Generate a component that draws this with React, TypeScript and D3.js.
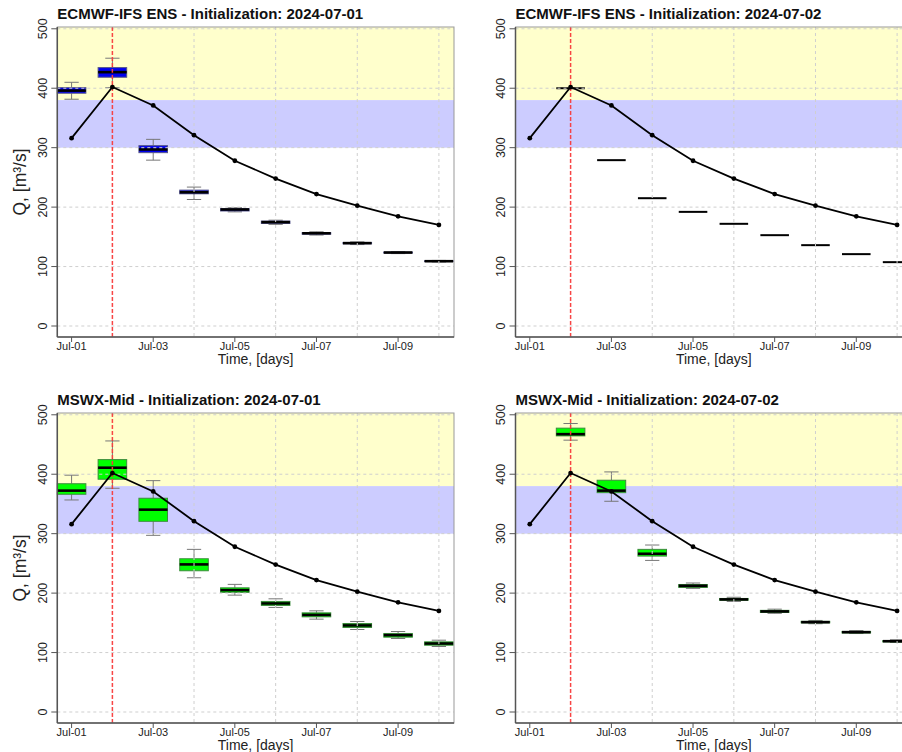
import * as d3 from "d3";

const W = 902, H = 752;
const PW = 396.7, PH = 310;

const DAYS = [1, 2, 3, 4, 5, 6, 7, 8, 9, 10];
const TICK_DAYS = [1, 3, 5, 7, 9];
const TICK_LABELS = ["Jul-01", "Jul-03", "Jul-05", "Jul-07", "Jul-09"];
const GRID_DAYS = [2, 4, 6, 8, 10];
const Y_TICKS = [0, 100, 200, 300, 400, 500];
const INIT_DAY = 2;
const OBS = [316, 402, 371, 321, 278, 248, 222, 202.5, 184.5, 170];

// [lower whisker, q1, median, q3, upper whisker], null where no forecast
type Box = number[] | null;
const ECMWF_0701: Box[] = [
  [381.5, 391.6, 396, 401, 410],
  [401, 418.5, 427, 434.7, 450.5],
  [279, 291.6, 297, 303.4, 314],
  [212.8, 222.4, 225, 228.6, 233.7],
  [192, 193.5, 196, 197.5, 199],
  [171, 172.5, 174.7, 176.5, 178],
  [153, 154.5, 156, 157, 158.5],
  [137, 138.3, 139.4, 140.5, 141.5],
  [121.8, 122.8, 123.6, 124.3, 125.2],
  [107.8, 108.5, 109, 109.6, 110.3],
];
const ECMWF_0702_VALUES = [null, 400, 279, 215, 192, 171.9, 152.8, 136, 120.9, 107.4];
const MSWX_0701: Box[] = [
  [356.7, 366.3, 372.4, 384, 398.4],
  [376.4, 391.6, 411, 424.6, 456],
  [297.2, 320.8, 340.4, 359.6, 389.2],
  [225.8, 237.6, 248.3, 257.8, 273.6],
  [196.6, 201.2, 205, 208.9, 214.7],
  [175.9, 179.3, 182.6, 186, 190.4],
  [156.2, 160.1, 163.4, 166.8, 170.2],
  [138.8, 142.2, 145.6, 148.9, 152.3],
  [123.7, 125.9, 129.2, 132.1, 135.4],
  [110.2, 112.4, 115.2, 118, 120.8],
];
const MSWX_0702: Box[] = [
  null,
  [457.3, 464.5, 467.4, 477.5, 485.3],
  [354.5, 369, 372.4, 389.9, 403.9],
  [255, 262.3, 266.2, 273.6, 280.9],
  [208, 209.5, 212.3, 214.5, 217],
  [186, 188, 189.4, 191, 193],
  [166, 167.5, 169.2, 171, 173],
  [148.5, 150, 151.1, 152.5, 154],
  [132, 133, 134.3, 135.5, 137],
  [117, 118, 119.1, 120, 121.5],
];

const FONT = "'Liberation Sans', Arial, sans-serif";

interface PanelProps {
  x0: number;
  y0: number;
  title: string;
  boxes: Box[];
  fill: string;
  edge: string;
  yLabel: boolean;
}

function Panel({ x0, y0, title, boxes, fill, edge, yLabel }: PanelProps) {
  const x = d3.scaleLinear().domain([0.65, 10.37]).range([0, PW]);
  const y = d3.scaleLinear().domain([-18.5, 503]).range([PH, 0]);
  const bw = x(1.7) - x(1); // box width (0.7 day)
  const line = d3.line<number>().x((_, i) => x(DAYS[i])).y((d) => y(d));

  return (
    <g transform={`translate(${x0},${y0})`}>
      {/* threshold bands */}
      <rect x={0} y={0} width={PW} height={y(380)} fill="#ffffcc" />
      <rect x={0} y={y(380)} width={PW} height={y(300) - y(380)} fill="#ccccff" />

      {/* boxplots */}
      {boxes.map((b, i) => {
        if (!b) return null;
        const cx = x(DAYS[i]);
        const [lo, q1, med, q3, hi] = b;
        const flat = q3 - q1 < 0.01;
        return (
          <g key={i}>
            {!flat && (
              <>
                <line x1={cx} x2={cx} y1={y(hi)} y2={y(q3)} stroke="#777" strokeWidth={1} />
                <line x1={cx} x2={cx} y1={y(q1)} y2={y(lo)} stroke="#777" strokeWidth={1} />
                <line x1={cx - bw / 4} x2={cx + bw / 4} y1={y(hi)} y2={y(hi)} stroke="#777" strokeWidth={1} />
                <line x1={cx - bw / 4} x2={cx + bw / 4} y1={y(lo)} y2={y(lo)} stroke="#777" strokeWidth={1} />
                <rect x={cx - bw / 2} y={y(q3)} width={bw} height={y(q1) - y(q3)} fill={fill} stroke={edge} strokeWidth={1} />
              </>
            )}
            <line x1={cx - bw / 2} x2={cx + bw / 2} y1={y(med)} y2={y(med)} stroke="#000" strokeWidth={flat ? 2 : 2.6} />
          </g>
        );
      })}

      {/* grid */}
      {Y_TICKS.map((t) => (
        <line key={"h" + t} x1={0} x2={PW} y1={y(t)} y2={y(t)} stroke="#cfcfcf" strokeWidth={1} strokeDasharray="3,3" />
      ))}
      {GRID_DAYS.map((d) => (
        <line key={"v" + d} x1={x(d)} x2={x(d)} y1={0} y2={PH} stroke="#cfcfcf" strokeWidth={1} strokeDasharray="3,3" />
      ))}

      {/* initialization date */}
      <line x1={x(INIT_DAY)} x2={x(INIT_DAY)} y1={0} y2={PH} stroke="#ff2020" strokeOpacity={0.8} strokeWidth={1.5} strokeDasharray="4,2" />

      {/* observed */}
      <path d={line(OBS) || ""} fill="none" stroke="#000" strokeWidth={1.8} />
      {OBS.map((v, i) => (
        <circle key={i} cx={x(DAYS[i])} cy={y(v)} r={2.4} fill="#000" />
      ))}

      {/* frame and axes */}
      <rect x={0} y={0} width={PW} height={PH} fill="none" stroke="#999" strokeWidth={1} />
      <line x1={0} x2={0} y1={0} y2={PH} stroke="#555" strokeWidth={1.5} />
      <line x1={0} x2={PW} y1={PH} y2={PH} stroke="#555" strokeWidth={1.5} />
      {Y_TICKS.map((t) => (
        <g key={"yt" + t}>
          <line x1={-6} x2={0} y1={y(t)} y2={y(t)} stroke="#555" strokeWidth={1} />
          <text
            transform={`translate(${-14.6},${y(t)}) rotate(-90)`}
            textAnchor="middle"
            dominantBaseline="central"
            fontSize={12.5}
            fill="#222"
          >
            {t}
          </text>
        </g>
      ))}
      {TICK_DAYS.map((d, i) => (
        <g key={"xt" + d}>
          <line x1={x(d)} x2={x(d)} y1={PH} y2={PH + 5} stroke="#555" strokeWidth={1} />
          <text x={x(d)} y={PH + 12.5} textAnchor="middle" fontSize={11} fill="#222">
            {TICK_LABELS[i]}
          </text>
        </g>
      ))}
      <text x={PW / 2} y={PH + 27} textAnchor="middle" fontSize={14} fill="#222">
        Time, [days]
      </text>
      {yLabel && (
        <text transform={`translate(${-31},${PH / 2}) rotate(-90)`} textAnchor="middle" fontSize={17.5} fill="#222">
          Q, [m³/s]
        </text>
      )}
      <text x={0} y={-8.5} fontSize={15} fontWeight="bold" fill="#111">
        {title}
      </text>
    </g>
  );
}

export default function App() {
  const flat0702: Box[] = ECMWF_0702_VALUES.map((v) => (v == null ? null : [v, v, v, v, v]));
  return (
    <svg
      width={W}
      height={H}
      style={{ position: "absolute", left: 0, top: 0, background: "#fff", fontFamily: FONT }}
    >
      <Panel x0={57.3} y0={27} title="ECMWF-IFS ENS - Initialization: 2024-07-01" boxes={ECMWF_0701} fill="#0000ee" edge="#55558a" yLabel />
      <Panel x0={515.5} y0={27} title="ECMWF-IFS ENS - Initialization: 2024-07-02" boxes={flat0702} fill="#0000ee" edge="#55558a" yLabel={false} />
      <Panel x0={57.3} y0={413} title="MSWX-Mid - Initialization: 2024-07-01" boxes={MSWX_0701} fill="#00ff00" edge="#3c8c3c" yLabel />
      <Panel x0={515.5} y0={413} title="MSWX-Mid - Initialization: 2024-07-02" boxes={MSWX_0702} fill="#00ff00" edge="#3c8c3c" yLabel={false} />
    </svg>
  );
}
